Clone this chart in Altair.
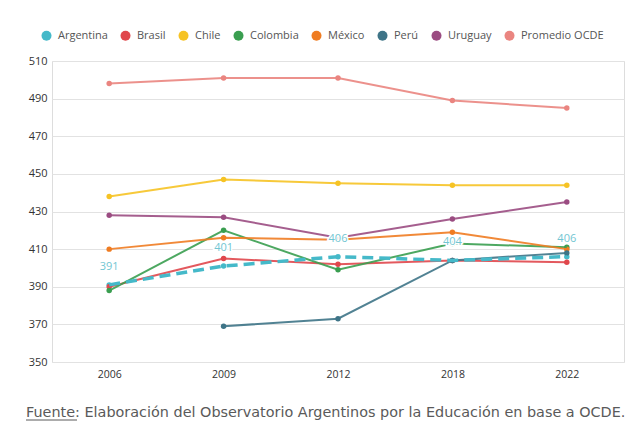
import altair as alt
import pandas as pd

years = ["2006", "2009", "2012", "2018", "2022"]
series_names = ["Argentina", "Brasil", "Chile", "Colombia", "México", "Perú", "Uruguay", "Promedio OCDE"]
series_colors = ["#45b9c9", "#e0474c", "#f6c325", "#3a9e50", "#ef7c22", "#3e7487", "#9b4c82", "#ea8580"]

argentina = [391, 401, 406, 404, 406]
brasil = [390, 405, 402, 404, 403]
chile = [438, 447, 445, 444, 444]
colombia = [388, 420, 399, 413, 411]
mexico = [410, 416, 415, 419, 410]
peru = [None, 369, 373, 404, 408]
uruguay = [428, 427, 416, 426, 435]
ocde = [498, 501, 501, 489, 485]

y_ticks = [350, 370, 390, 410, 430, 450, 470, 490, 510]
caption = "Fuente: Elaboración del Observatorio Argentinos por la Educación en base a OCDE."

values = [argentina, brasil, chile, colombia, mexico, peru, uruguay, ocde]
rows = []
for name, vals in zip(series_names, values):
    for yr, v in zip(years, vals):
        if v is not None:
            rows.append({"year": yr, "pais": name, "valor": v})
df = pd.DataFrame(rows)

FONT = "Open Sans"

x_enc = alt.X("year:O", scale=alt.Scale(type="point", padding=0.5, domain=years),
              axis=alt.Axis(title=None, labelAngle=0, ticks=False, domain=False, grid=False,
                            labelPadding=7, labelFontSize=10.5, labelColor="#333", labelFont=FONT))
y_enc = alt.Y("valor:Q", scale=alt.Scale(domain=[350, 510], nice=False, zero=False),
              axis=alt.Axis(title=None, values=y_ticks, ticks=False, domain=False,
                            labelPadding=5, labelFontSize=11, labelColor="#333", labelFont=FONT,
                            gridColor="#e2e2e2", gridWidth=1))
color_enc = alt.Color("pais:N", scale=alt.Scale(domain=series_names, range=series_colors),
                      legend=alt.Legend(title=None, orient="none", legendX=-11, legendY=-31,
                                        direction="horizontal", columns=8, symbolType="circle",
                                        symbolSize=100, symbolStrokeWidth=0,
                                        labelFontSize=11,
                                        labelColor="#555", labelFont=FONT, labelOffset=6,
                                        columnPadding=12))

base = alt.Chart(df)

others = base.transform_filter(alt.datum.pais != "Argentina").mark_line(strokeWidth=2, opacity=0.9).encode(
    x=x_enc, y=y_enc, color=color_enc,
)

points = base.mark_point(filled=True, size=30, opacity=1).encode(
    x=x_enc, y=y_enc, color=color_enc,
)

arg = base.transform_filter(alt.datum.pais == "Argentina")
arg_line = arg.mark_line(strokeWidth=3.5, strokeDash=[11, 6]).encode(
    x=x_enc, y=y_enc, color=color_enc,
)
arg_halo = arg.mark_text(dy=-18, fontSize=11, font=FONT, stroke="white", strokeWidth=3,
                         color="white").encode(x=x_enc, y=y_enc, text="valor:Q")
arg_text = arg.mark_text(dy=-18, fontSize=11, font=FONT, color="#72c6d2").encode(
    x=x_enc, y=y_enc, text="valor:Q")

cap_df = pd.DataFrame({"t": [caption]})
cap = alt.Chart(cap_df).mark_text(align="left", baseline="middle", fontSize=14.4, font="DejaVu Sans",
                                  color="#5a5a5a").encode(
    x=alt.value(-26), y=alt.value(352), text="t:N")
underline = alt.Chart(cap_df).mark_rule(color="#5a5a5a", strokeWidth=1).encode(
    x=alt.value(-26), x2=alt.value(25), y=alt.value(359))

chart = alt.layer(points, others, arg_line, arg_halo, arg_text, cap, underline).properties(
    width=572, height=301,
    padding={"left": 44, "top": 53, "right": 10, "bottom": 60},
    autosize=alt.AutoSizeParams(type="none"),
).configure_view(stroke=None).configure(background="white")

chart.save("out.html", embed_options={"renderer": "svg", "actions": False})
